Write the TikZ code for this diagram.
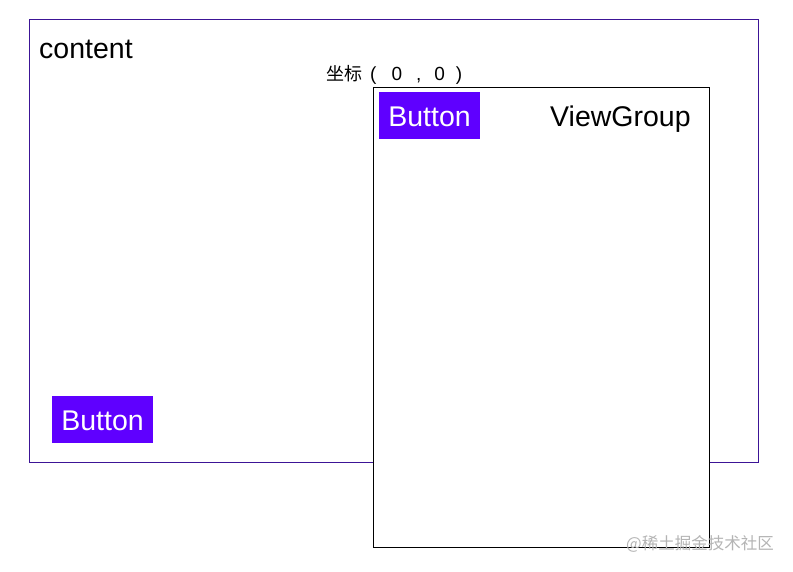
\documentclass[tikz,border=0pt]{standalone}
\usepackage{fontspec}
\setmainfont{Liberation Sans}
\newfontfamily\cjk{Noto Sans CJK SC}
\definecolor{btnfill}{RGB}{95,0,255}
\definecolor{outerline}{RGB}{60,20,150}
\definecolor{wmgray}{RGB}{180,180,180}
\begin{document}
\begin{tikzpicture}[x=1pt,y=-1pt,
  btn/.style={fill=btnfill,draw=none,inner sep=0pt,text=white,font=\fontsize{28.5}{28.5}\selectfont},
  lbl/.style={inner sep=0pt,anchor=west,font=\fontsize{28.5}{28.5}\selectfont}]
\useasboundingbox (0,0) rectangle (793,571);
\fill[white] (0,0) rectangle (793,571);
% view group (drawn first, outer line hidden behind it)
\begin{scope}
\draw[color=outerline,line width=0.8pt] (373,462) -| (29,19) -| (758,462) -- (709,462);
\end{scope}
\node[lbl] (content) at (39,49) {content};
% coordinate label
\node[inner sep=0pt,anchor=west,font=\fontsize{19}{19}\selectfont] (coord) at (326,74.5)
  {{\cjk\fontsize{18}{18}\selectfont 坐标}\hspace{8pt}(\hspace{15pt}0\hspace{14pt},\hspace{13pt}0\hspace{11pt})};
% view group
\draw[black,line width=1pt] (373,87) rectangle (709,547);
\node[lbl] (vg) at (550,119.5) {ViewGroup};
% buttons
\fill[btnfill] (379,92) rectangle (480,139);
\node[btn] (b1) at (429.5,116.5) {Button};
\fill[btnfill] (52,396) rectangle (153,443);
\node[btn] (b2) at (102.5,420.5) {Button};
% watermark
\node[inner sep=0pt,anchor=west,text=wmgray,font=\cjk\fontsize{16.5}{16.5}\selectfont] (wm) at (626,544) {@稀土掘金技术社区};
\end{tikzpicture}
\end{document}
